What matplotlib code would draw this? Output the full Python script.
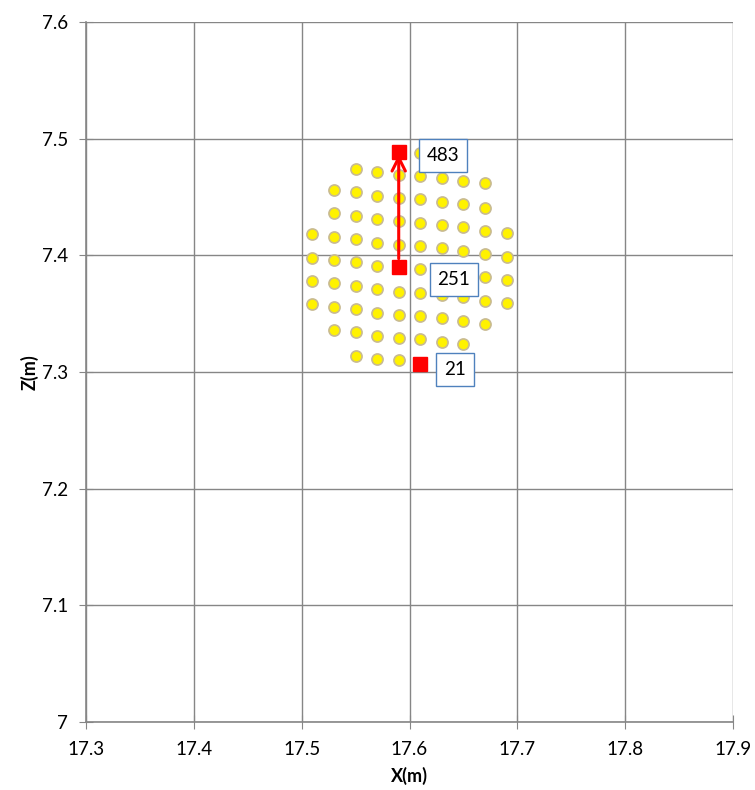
import matplotlib
matplotlib.use("Agg")
import matplotlib.pyplot as plt

# yellow grid points, one list per column (x in m, z in m)
col_x = [17.51, 17.53, 17.55, 17.57, 17.59, 17.61, 17.63, 17.65, 17.67, 17.69]
col_z = [
    [7.418, 7.398, 7.378, 7.358],
    [7.456, 7.436, 7.416, 7.396, 7.376, 7.356, 7.336],
    [7.474, 7.454, 7.434, 7.414, 7.394, 7.374, 7.354, 7.334, 7.314],
    [7.471, 7.451, 7.431, 7.411, 7.391, 7.371, 7.351, 7.331, 7.311],
    [7.489, 7.469, 7.449, 7.429, 7.409, 7.389, 7.369, 7.349, 7.329, 7.310],
    [7.488, 7.468, 7.448, 7.428, 7.408, 7.388, 7.368, 7.348, 7.328, 7.308],
    [7.466, 7.446, 7.426, 7.406, 7.386, 7.366, 7.346, 7.326, 7.306],
    [7.464, 7.444, 7.424, 7.404, 7.384, 7.364, 7.344, 7.324],
    [7.462, 7.441, 7.421, 7.401, 7.381, 7.361, 7.341],
    [7.419, 7.399, 7.379, 7.359],
]

# highlighted points
hl_x = [17.59, 17.59, 17.61]
hl_z = [7.489, 7.390, 7.307]
hl_labels = ["483", "251", "21"]
label_offsets = [(20, -3), (28, -9), (17, -4)]

xticks = [17.3, 17.4, 17.5, 17.6, 17.7, 17.8, 17.9]
yticks = [7.0, 7.1, 7.2, 7.3, 7.4, 7.5, 7.6]

plt.rcParams['font.family'] = ['Lato', 'DejaVu Sans']

fig = plt.figure(figsize=(7.55, 7.90), dpi=100)
ax = fig.add_axes([86 / 755, 68 / 790, 647 / 755, 700 / 790])

xs, zs = [], []
for x, col in zip(col_x, col_z):
    for z in col:
        xs.append(x)
        zs.append(z)
ax.plot(xs, zs, 'o', color='#FFF200', markeredgecolor='#C8BA92',
        markeredgewidth=1.2, markersize=8, zorder=3)

ax.plot(hl_x, hl_z, 's', color='#FF0000', markersize=10, zorder=4)

ax.annotate('', xy=(hl_x[0], hl_z[0]), xytext=(hl_x[1], hl_z[1]),
            arrowprops=dict(arrowstyle='->', color='#FF0000', lw=2.2,
                            mutation_scale=24, shrinkA=6, shrinkB=2),
            zorder=5)

for x, z, lab, off in zip(hl_x, hl_z, hl_labels, label_offsets):
    ax.annotate(lab, (x, z), xytext=off, textcoords='offset points',
                ha='left', va='center', fontsize=13.5,
                bbox=dict(boxstyle='square,pad=0.42', fc='white',
                          ec='#4F81BD', lw=1),
                zorder=6)

ax.set_xlim(17.3, 17.9)
ax.set_ylim(7.0, 7.6)
ax.set_xticks(xticks)
ax.set_yticks(yticks)
ax.set_xticklabels([f"{t:g}" for t in xticks])
ax.set_yticklabels([f"{t:g}" for t in yticks])
ax.grid(True, color='#868686', lw=1)
ax.set_axisbelow(True)
for s in ['top', 'right']:
    ax.spines[s].set_visible(False)
for s in ['left', 'bottom']:
    ax.spines[s].set_color('#868686')
    ax.spines[s].set_linewidth(1.2)
ax.tick_params(direction='inout', length=10, color='#868686', labelsize=13.5)
ax.tick_params(axis='x', pad=9)
ax.tick_params(axis='y', pad=8)
ax.set_xlabel('X(m)', fontsize=13, fontweight='bold', labelpad=6)
ax.set_ylabel('Z(m)', fontsize=13, fontweight='bold', labelpad=2)

fig.savefig('out.png', dpi=100)
